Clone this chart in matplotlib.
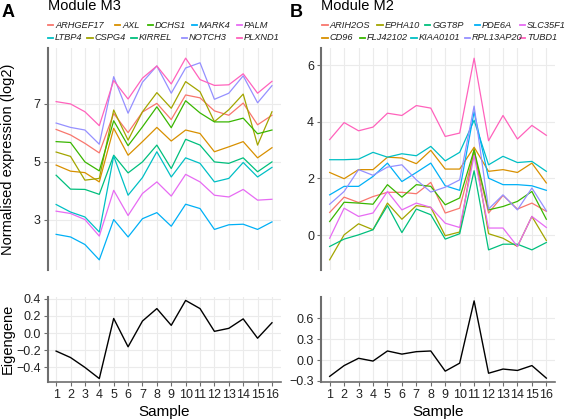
import matplotlib
matplotlib.use('Agg')
import matplotlib.pyplot as plt

plt.rcParams['font.family'] = ['Liberation Sans', 'DejaVu Sans']

samples = list(range(1, 17))

# ---------------- Module M3 ----------------
genes_m3 = ['ARHGEF17', 'AXL', 'CSPG4', 'DCHS1', 'KIRREL',
            'LTBP4', 'MARK4', 'NOTCH3', 'PALM', 'PLXND1']
ARHGEF17 = [6.11, 5.92, 5.63, 5.30, 6.66, 6.00, 6.71, 7.01, 6.45, 7.30, 7.20, 6.75, 6.60, 7.02, 6.27, 6.60]
AXL      = [4.88, 4.67, 4.62, 4.30, 6.15, 5.22, 5.69, 6.18, 5.71, 6.09, 5.97, 5.34, 5.51, 5.69, 5.13, 5.48]
CSPG4    = [5.33, 5.18, 4.36, 4.42, 6.78, 5.74, 6.72, 7.38, 6.84, 7.76, 7.41, 6.38, 6.79, 7.33, 5.57, 6.72]
DCHS1    = [5.69, 5.66, 4.99, 4.68, 6.41, 5.55, 6.20, 6.89, 6.17, 7.10, 6.68, 6.37, 6.37, 6.50, 5.96, 6.09]
KIRREL   = [4.53, 4.05, 4.04, 3.87, 5.22, 4.61, 4.99, 5.57, 4.76, 5.77, 5.57, 4.99, 4.94, 5.13, 4.65, 4.99]
LTBP4    = [3.52, 3.26, 3.09, 2.57, 5.19, 3.84, 4.45, 5.34, 4.47, 5.13, 4.94, 4.30, 4.42, 4.97, 4.47, 4.80]
MARK4    = [2.49, 2.40, 2.14, 1.61, 3.00, 2.40, 3.03, 3.24, 2.77, 3.53, 3.38, 2.66, 2.82, 2.84, 2.66, 2.92]
NOTCH3   = [6.33, 6.18, 6.09, 5.60, 7.93, 6.67, 7.74, 8.30, 7.36, 8.23, 8.41, 7.15, 7.36, 7.96, 7.03, 7.62]
PALM     = [3.29, 3.21, 3.00, 2.43, 4.01, 3.14, 3.90, 4.30, 3.81, 4.56, 4.30, 3.84, 3.78, 4.04, 3.67, 3.70]
PLXND1   = [7.07, 6.99, 6.72, 6.24, 7.80, 7.16, 7.88, 8.30, 7.68, 8.57, 7.83, 7.63, 7.65, 8.03, 7.36, 7.77]
expr_m3 = [ARHGEF17, AXL, CSPG4, DCHS1, KIRREL, LTBP4, MARK4, NOTCH3, PALM, PLXND1]
eigen_m3 = [-0.21, -0.285, -0.40, -0.53, 0.17, -0.16, 0.14, 0.285, 0.09, 0.38, 0.285, 0.02, 0.055, 0.165, -0.06, 0.12]
legend_rows_m3 = [['ARHGEF17', 'AXL', 'DCHS1', 'MARK4', 'PALM'],
                  ['LTBP4', 'CSPG4', 'KIRREL', 'NOTCH3', 'PLXND1']]

# ---------------- Module M2 ----------------
genes_m2 = ['ARIH2OS', 'CD96', 'EPHA10', 'FLJ42102', 'GGT8P',
            'KIAA0101', 'PDE6A', 'RPL13AP20', 'SLC35F1', 'TUBD1']
ARIH2OS   = [0.80, 1.34, 1.15, 1.36, 1.51, 1.51, 1.46, 1.86, 0.78, 0.95, 2.90, 0.78, 1.40, 0.92, 1.13, 0.84]
CD96      = [2.21, 1.99, 2.31, 2.31, 2.75, 2.72, 2.52, 2.99, 2.33, 2.33, 3.10, 2.25, 2.31, 2.21, 2.54, 1.84]
EPHA10    = [-0.87, 0.01, 0.40, 0.19, 1.13, 0.56, 1.04, 0.98, -0.02, 0.11, 3.05, 0.05, -0.11, -0.40, 0.66, -0.19]
FLJ42102  = [0.48, 1.16, 1.13, 1.09, 1.78, 1.34, 1.78, 1.72, 1.07, 1.31, 3.00, 0.89, 1.01, 1.19, 1.54, 0.56]
GGT8P     = [-0.40, -0.14, 0.01, 0.19, 1.04, 0.09, 0.92, 0.72, -0.14, 0.05, 2.27, -0.52, -0.32, -0.32, -0.52, -0.26]
KIAA0101  = [2.66, 2.66, 2.68, 2.92, 2.75, 2.87, 2.80, 3.13, 2.62, 2.92, 4.05, 2.48, 2.78, 2.56, 2.60, 2.25]
PDE6A     = [1.42, 1.72, 1.72, 2.07, 2.54, 1.89, 2.21, 2.54, 1.74, 1.58, 4.35, 2.01, 1.78, 1.78, 1.74, 1.58]
RPL13AP20 = [1.09, 1.54, 2.31, 2.11, 2.40, 2.48, 1.95, 1.52, 1.69, 1.95, 4.55, 0.92, 1.42, 0.89, 1.66, 0.86]
SLC35F1   = [-0.11, 0.95, 0.66, 0.78, 1.54, 0.89, 1.13, 0.98, 0.42, 0.27, 2.80, 0.25, 0.25, -0.40, 0.66, 0.27]
TUBD1     = [3.37, 3.97, 3.68, 3.81, 4.30, 4.22, 4.57, 4.48, 3.48, 3.60, 6.24, 3.33, 4.22, 3.39, 3.87, 3.52]
expr_m2 = [ARIH2OS, CD96, EPHA10, FLJ42102, GGT8P, KIAA0101, PDE6A, RPL13AP20, SLC35F1, TUBD1]
eigen_m2 = [-0.235, -0.08, 0.025, -0.015, 0.13, 0.085, 0.12, 0.13, -0.16, -0.045, 0.85, -0.19, -0.13, -0.15, -0.08, -0.26]
legend_rows_m2 = [['ARIH2OS', 'EPHA10', 'GGT8P', 'PDE6A', 'SLC35F1'],
                  ['CD96', 'FLJ42102', 'KIAA0101', 'RPL13AP20', 'TUBD1']]

hue10 = ['#F8766D', '#D89000', '#A3A500', '#39B600', '#00BF7D',
         '#00BFC4', '#00B0F6', '#9590FF', '#E76BF3', '#FF62BC']

W, H = 566, 420
fig = plt.figure(figsize=(W / 100, H / 100), dpi=100)


def rect(x0, y0, x1, y1):
    return [x0 / W, 1 - y1 / H, (x1 - x0) / W, (y1 - y0) / H]


def fx(px):
    return px / W


def fy(py):
    return 1 - py / H


GRID = '#EBEBEB'
SPINE = '#6E6E6E'


def style(ax, bottom_axis):
    for s in ['top', 'right']:
        ax.spines[s].set_visible(False)
    ax.spines['left'].set_color(SPINE)
    ax.spines['left'].set_linewidth(1.5)
    ax.set_xlim(0.4, 16.6)
    ax.set_xticks(samples)
    ax.grid(True, color=GRID, linewidth=0.8)
    ax.set_axisbelow(True)
    ax.tick_params(axis='y', length=3, width=0.8, color=SPINE, labelsize=9, pad=2, labelcolor='#222222')
    if bottom_axis:
        ax.spines['bottom'].set_color(SPINE)
        ax.spines['bottom'].set_linewidth(1.2)
        ax.tick_params(axis='x', length=3, width=0.8, color=SPINE, labelsize=9, pad=2, labelcolor='#222222')
        ax.set_xticklabels([str(s) for s in samples])
    else:
        ax.spines['bottom'].set_visible(False)
        ax.tick_params(axis='x', length=0, labelbottom=False)


def panel(x0, x1, genes, expr, eigen, ylim_top, yticks_top, ylim_bot, yticks_bot, ybot_labels,
          letter, letter_x, title, legend_rows, legend_x, show_ylabel):
    ax = fig.add_axes(rect(x0, 48, x1, 270))
    for g, vals, c in zip(genes, expr, hue10):
        ax.plot(samples, vals, color=c, linewidth=0.9)
    style(ax, False)
    ax.set_ylim(*ylim_top)
    ax.set_yticks(yticks_top)
    ax.set_yticklabels([str(t) for t in yticks_top])

    ax2 = fig.add_axes(rect(x0, 297, x1, 382))
    ax2.plot(samples, eigen, color='black', linewidth=1.0)
    style(ax2, True)
    ax2.set_ylim(*ylim_bot)
    ax2.set_yticks(yticks_bot)
    ax2.set_yticklabels(ybot_labels)
    ax2.set_xlabel('Sample', fontsize=11, labelpad=3)

    if show_ylabel:
        fig.text(fx(8), fy(159), 'Normalised expression (log2)', rotation=90,
                 ha='center', va='center', fontsize=10.5)
        fig.text(fx(8), fy(339), 'Eigengene', rotation=90,
                 ha='center', va='center', fontsize=10.5)

    fig.text(fx(letter_x), fy(17), letter, fontsize=13, fontweight='bold', ha='left', va='baseline')
    fig.text(fx(x0), fy(10.5), title, fontsize=10.5, ha='left', va='baseline')

    color_of = dict(zip(genes, hue10))
    n = len(legend_rows[0])
    for r, (row, ycen) in enumerate(zip(legend_rows, [25, 38])):
        for g, gx in zip(row, legend_x[r * n:(r + 1) * n]):
            fig.add_artist(plt.Line2D([fx(gx), fx(gx + 5.5)], [fy(ycen), fy(ycen)],
                                      color=color_of[g], linewidth=1.3, transform=fig.transFigure))
            fig.text(fx(gx + 7.5), fy(ycen), g, fontsize=6.7, style='italic', ha='left', va='center',
                     color='#222222')


panel(47.5, 280.6, genes_m3, expr_m3, eigen_m3,
      (1.26, 8.92), [3, 5, 7], (-0.57, 0.42), [-0.4, -0.2, 0.0, 0.2, 0.4],
      ['\u22120.4', '\u22120.2', '0.0', '0.2', '0.4'],
      'A', 2, 'Module M3', legend_rows_m3,
      [47.7, 115, 147.7, 191.7, 236.5, 47.7, 87.3, 131, 181.7, 236.5], True)

panel(321, 555, genes_m2, expr_m2, eigen_m2,
      (-1.23, 6.60), [0, 2, 4, 6], (-0.316, 0.906), [-0.3, 0.0, 0.3, 0.6],
      ['\u22120.3', '0.0', '0.3', '0.6'],
      'B', 290, 'Module M2', legend_rows_m2,
      [322.3, 377.3, 424.7, 474.7, 519.7, 322.3, 359.7, 411.3, 464.7, 519.7], False)

fig.savefig('out.png', dpi=100)
